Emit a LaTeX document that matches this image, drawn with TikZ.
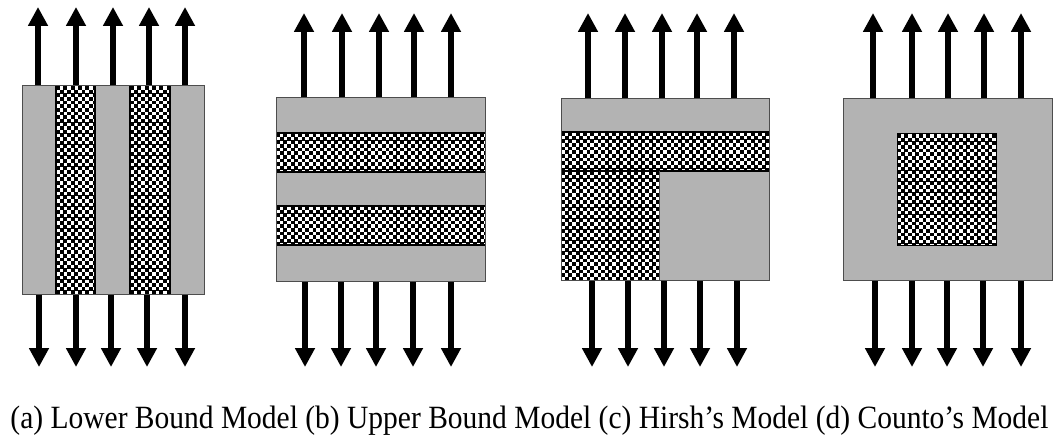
\documentclass[tikz,border=0pt]{standalone}
\usepackage{fontspec}
\setmainfont{Liberation Serif}
\usetikzlibrary{arrows.meta}

\definecolor{matrixgray}{HTML}{B3B3B3}
\definecolor{edgegray}{HTML}{4D4D4D}

\tikzset{
  matrixphase/.style={fill=matrixgray},
  incedge/.style={draw=black, line width=2pt},
  outline/.style={draw=edgegray, line width=1pt, fill=none},
  flux/.style={line width=5.5pt, -{Triangle[width=19pt,length=19pt]}},
  caption/.style={font=\fontsize{29.5}{30}\selectfont, inner sep=0pt, anchor=base},
}

% checkerboard filling of the inclusion phase inside (x1,y1)-(x2,y2)
\newcommand\checkerbox[4]{%
  \begin{scope}
    \clip (#1,#2) rectangle (#3,#4);
    \fill[white] (#1,#2) rectangle (#3,#4);
    \pgfmathtruncatemacro\ncols{ceil((#3-#1)/3.65)}
    \pgfmathtruncatemacro\nrows{ceil((#4-#2)/3.65)}
    \foreach \ci in {0,...,\ncols} {
      \foreach \rj in {0,...,\nrows} {
        \pgfmathtruncatemacro\cpar{mod(\ci+\rj,2)}
        \ifnum\cpar=0
          \fill[black] ({#1+\ci*3.65},{#2+\rj*3.65}) rectangle ++(3.9,3.9);
        \fi
      }
    }
  \end{scope}%
}

\begin{document}
\begin{tikzpicture}[x=1pt, y=-1pt]
\useasboundingbox (0,0) rectangle (1056,435);

% ---------- (a) lower bound: parallel vertical layers ----------
\fill[matrixphase] (22,86) rectangle (204,294);
\checkerbox{56}{86}{95}{294}
\checkerbox{130}{86}{170}{294}
\foreach \x in {56,95,130,170} \draw[incedge] (\x,86) -- (\x,294);
\node[outline, minimum width=182pt, minimum height=208pt, inner sep=0pt] (boxa) at (113,190) {};

% ---------- (b) upper bound: series horizontal layers ----------
\fill[matrixphase] (276,98) rectangle (485,282);
\checkerbox{276}{133}{485}{172}
\checkerbox{276}{206}{485}{245}
\foreach \y in {133,172,206,245} \draw[incedge] (276,\y) -- (485,\y);
\node[outline, minimum width=209pt, minimum height=184pt, inner sep=0pt] (boxb) at (380.5,190) {};

% ---------- (c) Hirsh: mixed series/parallel ----------
\fill[matrixphase] (561,99) rectangle (769,281);
\checkerbox{561}{132}{769}{171}
\checkerbox{561}{171}{659}{281}
\draw[incedge] (561,132) -- (769,132);
\draw[incedge] (561,171) -- (769,171);
\draw[outline] (659,171) -- (659,281);
\node[outline, minimum width=208pt, minimum height=182pt, inner sep=0pt] (boxc) at (665,190) {};

% ---------- (d) Counto: inclusion embedded in matrix ----------
\fill[matrixphase] (843,99) rectangle (1052,281);
\checkerbox{897}{134}{996}{246}
\node[draw=black, line width=1pt, minimum width=99pt, minimum height=112pt, inner sep=0pt] (cored) at (946.5,190) {};
\node[outline, minimum width=209pt, minimum height=182pt, inner sep=0pt] (boxd) at (947.5,190) {};

% ---------- flux arrows ----------
\foreach \x [count=\i] in {38,76,113,149,185} {
  \coordinate (at\i) at (\x,7);
  \draw[flux] (boxa.north -| at\i) -- (at\i);
}
\foreach \x [count=\i] in {39,76,111,147,185} {
  \coordinate (ab\i) at (\x,367);
  \draw[flux] (boxa.south -| ab\i) -- (ab\i);
}
\foreach \x [count=\i] in {304,342,379,414,451} {
  \coordinate (bt\i) at (\x,13);
  \draw[flux] (boxb.north -| bt\i) -- (bt\i);
}
\foreach \x [count=\i] in {305,341,376,413,451} {
  \coordinate (bb\i) at (\x,367);
  \draw[flux] (boxb.south -| bb\i) -- (bb\i);
}
\foreach \x [count=\i] in {588,625,662,697,734} {
  \coordinate (ct\i) at (\x,13);
  \draw[flux] (boxc.north -| ct\i) -- (ct\i);
}
\foreach \x [count=\i] in {592,628,664,700,737} {
  \coordinate (cb\i) at (\x,367);
  \draw[flux] (boxc.south -| cb\i) -- (cb\i);
}
\foreach \x [count=\i] in {873,912,948,984,1021} {
  \coordinate (dt\i) at (\x,13);
  \draw[flux] (boxd.north -| dt\i) -- (dt\i);
}
\foreach \x [count=\i] in {875,912,947,983,1021} {
  \coordinate (db\i) at (\x,367);
  \draw[flux] (boxd.south -| db\i) -- (db\i);
}

% ---------- caption line ----------
\node[caption] (cap) at (529.5,428) {\scalebox{1}[1.1]{(a) Lower Bound Model (b) Upper Bound Model (c) Hirsh’s Model (d) Counto’s Model}};
\end{tikzpicture}
\end{document}
